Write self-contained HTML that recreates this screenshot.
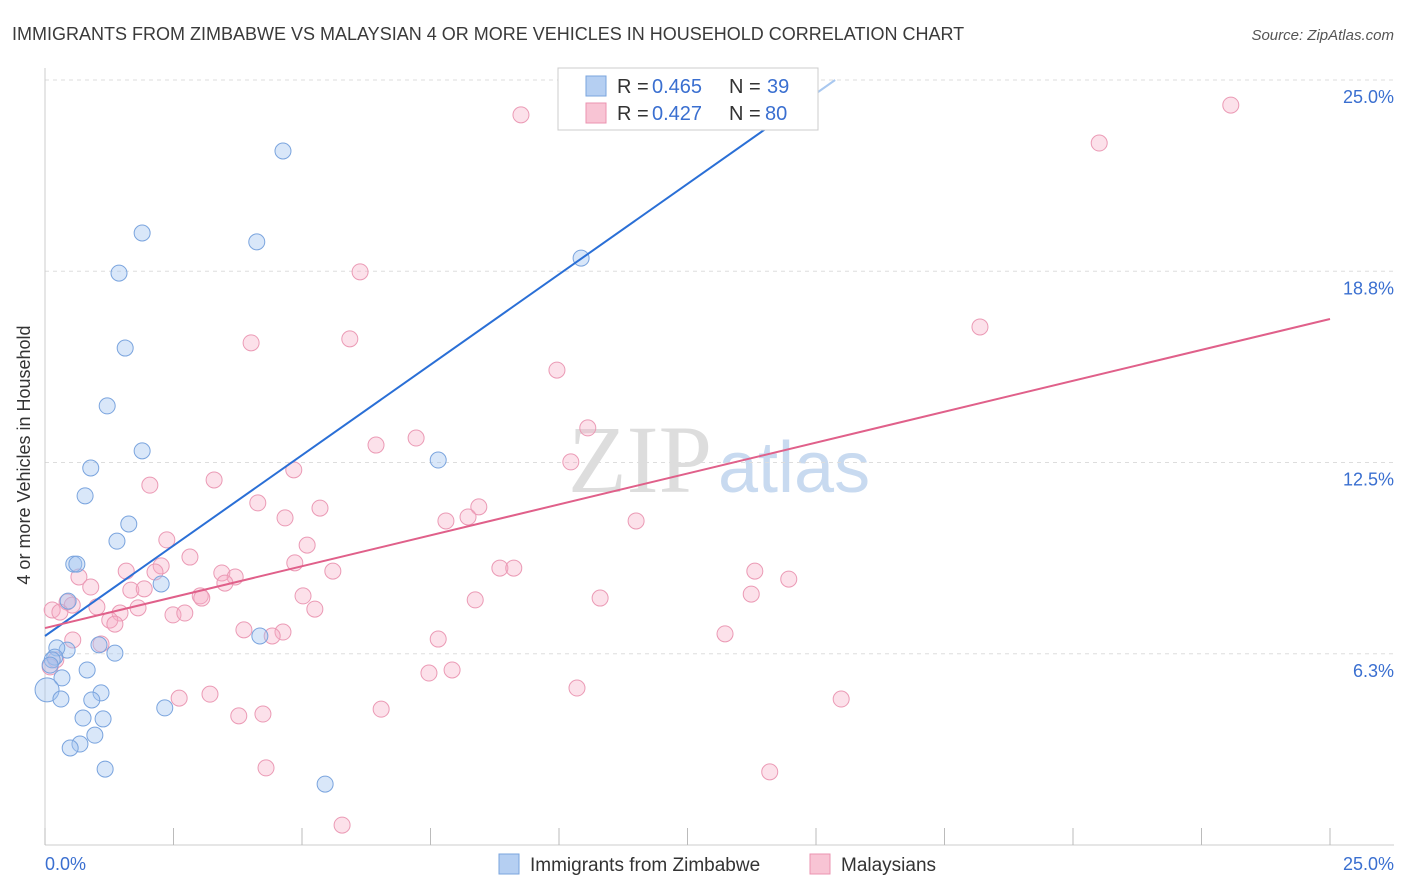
<!DOCTYPE html>
<html><head><meta charset="utf-8"><style>
body{margin:0;background:#fff;font-family:"Liberation Sans",sans-serif;}
svg{display:block}
</style></head><body>
<svg id="chart" width="1406" height="892">
<text x="12" y="40" font-size="18" fill="#3a3a3a">IMMIGRANTS FROM ZIMBABWE VS MALAYSIAN 4 OR MORE VEHICLES IN HOUSEHOLD CORRELATION CHART</text>
<text x="1394" y="40" font-size="15" fill="#555" text-anchor="end" font-style="italic">Source: ZipAtlas.com</text>
<text x="30" y="455" font-size="18" fill="#333" text-anchor="middle" transform="rotate(-90 30 455)">4 or more Vehicles in Household</text>
<text x="712" y="492" font-size="96" fill="#ddd" text-anchor="end" font-family="Liberation Serif">ZIP</text>
<text x="718" y="492" font-size="72" fill="#c8daf0">atlas</text>
<g id="grid"></g><g id="axes"></g><g id="pts"></g><g id="lines"></g>
<g>
<rect x="558" y="68" width="260" height="62" fill="#fff" stroke="#ccc"/>
<rect x="586" y="76" width="20" height="20" fill="#b5cff2" stroke="#7aa4de"/>
<rect x="586" y="103" width="20" height="20" fill="#f8c4d4" stroke="#eb93b0"/>
<g font-size="20" fill="#333">
<text x="617" y="93">R =</text>
<text x="652" y="93" fill="#3a6fd0">0.465</text>
<text x="729" y="93">N =</text>
<text x="767" y="93" fill="#3a6fd0">39</text>
<text x="617" y="120">R =</text>
<text x="652" y="120" fill="#3a6fd0">0.427</text>
<text x="729" y="120">N =</text>
<text x="765" y="120" fill="#3a6fd0">80</text>
</g>
</g>
<g>
<rect x="499" y="854" width="20" height="20" fill="#b5cff2" stroke="#7aa4de"/>
<text x="530" y="871" font-size="19" fill="#333">Immigrants from Zimbabwe</text>
<rect x="810" y="854" width="20" height="20" fill="#f8c4d4" stroke="#eb93b0"/>
<text x="841" y="871" font-size="19" fill="#333">Malaysians</text>
</g>
</svg>
<script>
const blueX=[4.63,1.89,4.12,1.44,10.43,1.56,1.21,1.89,7.65,0.89,0.78,1.63,1.40,0.56,0.62,2.26,0.45,4.18,1.05,1.36,0.43,0.23,0.19,0.82,0.33,0.04,0.31,1.09,0.91,2.33,0.74,1.13,0.97,0.68,0.49,1.17,5.45,0.14,0.10];
const blueY=[22.68,20.0,19.71,18.69,19.18,16.24,14.35,12.88,12.58,12.32,11.41,10.49,9.93,9.18,9.18,8.53,7.97,6.83,6.54,6.27,6.37,6.44,6.14,5.72,5.46,5.07,4.77,4.97,4.74,4.48,4.15,4.12,3.59,3.30,3.17,2.48,1.99,6.05,5.88];
const pinkX=[9.26,23.07,20.51,6.13,18.19,4.01,5.93,9.96,10.56,7.22,6.44,10.23,4.84,2.04,3.29,4.14,8.44,7.80,8.23,11.50,5.35,4.67,2.37,5.10,2.82,4.86,5.60,2.26,1.58,2.14,3.44,3.70,8.85,9.12,13.81,14.47,0.66,0.89,1.67,3.50,1.93,3.02,3.05,5.02,13.74,10.80,8.37,0.43,0.53,1.01,0.14,0.29,1.81,1.46,2.49,2.72,5.25,1.26,1.36,3.87,4.63,4.42,7.65,13.23,0.54,1.09,0.21,0.10,7.92,7.47,10.35,2.61,3.21,15.49,6.54,3.77,4.24,4.30,14.10,5.78];
const pinkY=[23.86,24.18,22.94,18.73,16.93,16.41,16.54,15.52,13.63,13.30,13.07,12.52,12.26,11.76,11.93,11.18,11.05,10.59,10.72,10.59,11.01,10.69,9.97,9.80,9.41,9.22,8.95,9.12,8.95,8.92,8.89,8.76,9.05,9.05,8.95,8.69,8.76,8.43,8.33,8.56,8.37,8.14,8.07,8.14,8.20,8.07,8.01,7.94,7.84,7.78,7.68,7.61,7.75,7.58,7.52,7.58,7.71,7.35,7.22,7.03,6.96,6.83,6.73,6.90,6.70,6.57,6.05,5.82,5.72,5.62,5.13,4.80,4.93,4.77,4.44,4.22,4.28,2.52,2.39,0.65];
const blueTrend=[6.83,1.182];
const pinkTrend=[7.09,0.404];
const yTicks=[25,18.75,12.5,6.25];
const yTickLabels=["25.0%","18.8%","12.5%","6.3%"];
const NS="http://www.w3.org/2000/svg";
const X=v=>45+v/25*1285, Y=v=>845-v/25*765;
function mk(p,t,a){const e=document.createElementNS(NS,t);for(const k in a)e.setAttribute(k,a[k]);document.getElementById(p).appendChild(e);return e;}
yTicks.forEach((t,i)=>{
 const g=mk('grid','line',{x1:45,x2:1394,y1:Y(t),y2:Y(t),stroke:'#ddd','stroke-dasharray':'4,4'});
 
 
 const l=mk('grid','text',{x:1394,y:Y(t)+23,'font-size':18,fill:'#3a6fd0','text-anchor':'end'});
 l.textContent=yTickLabels[i];
 
 
});
const ax=mk('axes','line',{x1:45,x2:1394,y1:845,y2:845,stroke:'#ccc'});


const ay=mk('axes','line',{x1:45,x2:45,y1:68,y2:845,stroke:'#ccc'});


for(let i=0;i<=10;i++){
 const t=mk('axes','line',{x1:X(i*2.5),x2:X(i*2.5),y1:828,y2:845,stroke:'#bbb'});
 
 
}
const xl0=mk('axes','text',{x:45,y:870,'font-size':18,fill:'#3a6fd0'});xl0.textContent='0.0%';


const xl1=mk('axes','text',{x:1394,y:870,'font-size':18,fill:'#3a6fd0','text-anchor':'end'});xl1.textContent='25.0%';


pinkX.forEach((x,i)=>{
 const c=mk('pts','circle',{cx:X(x),cy:Y(pinkY[i]),r:8,fill:'rgba(245,170,195,0.35)',stroke:'#eb9ab5','stroke-width':1});
 
 
});
blueX.forEach((x,i)=>{
 const c=mk('pts','circle',{cx:X(x),cy:Y(blueY[i]),r:i==25?12:8,fill:'rgba(160,195,240,0.4)',stroke:'#7aa4de','stroke-width':1});
 
 
});
const bEnd=(25-blueTrend[0])/blueTrend[1], bSolid=14.1;
const bl=mk('lines','line',{x1:X(0),y1:Y(blueTrend[0]),x2:X(bSolid),y2:Y(blueTrend[0]+blueTrend[1]*bSolid),stroke:'#2a6fd6','stroke-width':2});


const bl2=mk('lines','line',{x1:X(bSolid),y1:Y(blueTrend[0]+blueTrend[1]*bSolid),x2:X(bEnd),y2:Y(25),stroke:'#a9c8f0','stroke-width':2});


const pl=mk('lines','line',{x1:X(0),y1:Y(pinkTrend[0]),x2:X(25),y2:Y(pinkTrend[0]+pinkTrend[1]*25),stroke:'#e0608a','stroke-width':2});


</script>
</body></html>
